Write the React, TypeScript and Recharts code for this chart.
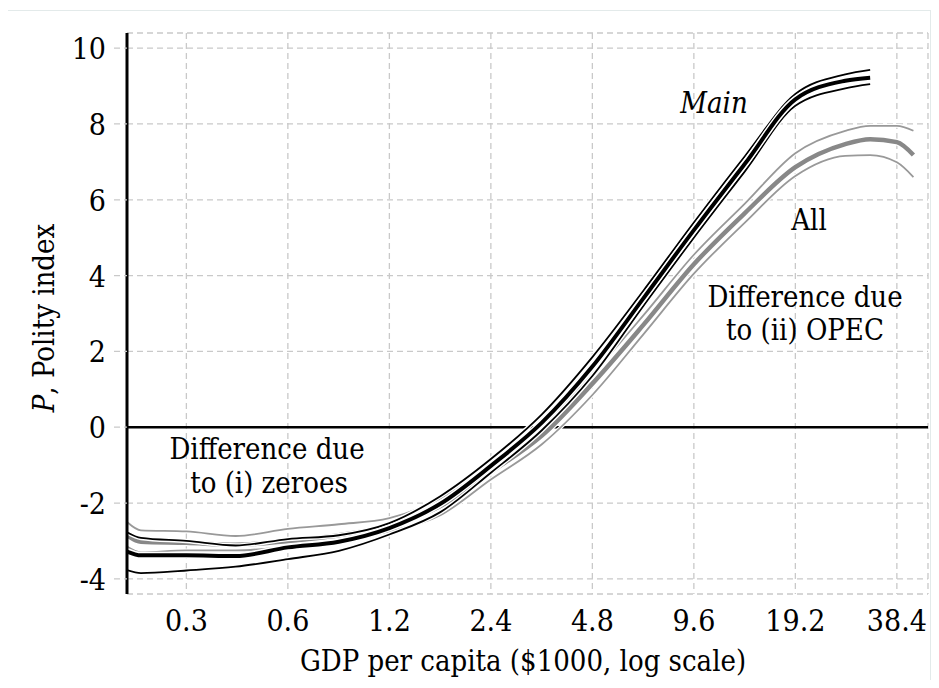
import React from 'react';
import { LineChart, Line, XAxis, YAxis, CartesianGrid, ReferenceLine } from 'recharts';

// GDP per capita ($1000) at which the curves are read
const gdp = [0.2, 0.22, 0.3, 0.42, 0.6, 0.85, 1.2, 1.7, 2.4, 3.4, 4.8, 6.8, 9.6, 13.6, 19.2, 27, 32, 38.4, 43];

// Main sample: estimate and confidence band
const mainMid = [-3.28, -3.38, -3.38, -3.4, -3.17, -3.02, -2.66, -2.02, -1.02, 0.12, 1.6, 3.4, 5.2, 6.95, 8.65, 9.14, 9.22, null, null];
const mainHi = [-2.77, -2.92, -3.0, -3.12, -2.95, -2.85, -2.53, -1.82, -0.84, 0.34, 1.85, 3.6, 5.4, 7.15, 8.79, 9.31, 9.43, null, null];
const mainLo = [-3.77, -3.85, -3.78, -3.68, -3.48, -3.26, -2.83, -2.24, -1.2, -0.08, 1.35, 3.2, 5.0, 6.75, 8.48, 8.94, 9.05, null, null];

// All countries: estimate and confidence band
const allMid = [-2.85, -3.02, -3.05, -3.1, -3.0, -2.85, -2.6, -2.08, -1.18, -0.22, 1.15, 2.7, 4.3, 5.65, 6.86, 7.47, 7.6, 7.52, 7.18];
const allHi = [-2.5, -2.72, -2.75, -2.87, -2.68, -2.56, -2.4, -1.88, -1.0, 0.03, 1.4, 2.95, 4.55, 5.9, 7.23, 7.82, 7.95, 7.95, 7.82];
const allLo = [-3.15, -3.3, -3.25, -3.25, -3.15, -3.0, -2.75, -2.32, -1.38, -0.45, 0.85, 2.45, 4.05, 5.4, 6.63, 7.16, 7.18, 6.99, 6.6];

const xTicks = [0.3, 0.6, 1.2, 2.4, 4.8, 9.6, 19.2, 38.4];
const yTicks = [-4, -2, 0, 2, 4, 6, 8, 10];

const data = gdp.map((g, i) => ({
  gdp: g,
  mainMid: mainMid[i],
  mainHi: mainHi[i],
  mainLo: mainLo[i],
  allMid: allMid[i],
  allHi: allHi[i],
  allLo: allLo[i],
}));

const GRID = '#c9c9c9';
const tickTxt = { fontFamily: 'DejaVu Serif', fontStretch: 'condensed', fontSize: 30 };
const noteTxt = { fontFamily: 'DejaVu Serif', fontStretch: 'condensed', fontSize: 29 };

const XTick = (props: any) => {
  const { x, y, payload } = props;
  return (
    <text x={x} y={y + 35} textAnchor="middle" style={tickTxt} fill="#000">
      {payload.value}
    </text>
  );
};

const YTick = (props: any) => {
  const { x, y, payload } = props;
  return (
    <text x={x - 6} y={y + 11} textAnchor="end" style={tickTxt} fill="#000">
      {payload.value}
    </text>
  );
};

// one curve = white halo underneath, coloured stroke on top
const curve = (key: string, color: string, width: number, halo: number) => [
  <Line key={key + '-halo'} dataKey={key} stroke="#fff" strokeWidth={halo} dot={false}
    type="monotone" isAnimationActive={false} activeDot={false} legendType="none" />,
  <Line key={key} dataKey={key} stroke={color} strokeWidth={width} dot={false}
    type="monotone" isAnimationActive={false} activeDot={false} legendType="none" />,
];

export default function App() {
  return (
    <div style={{ position: 'relative', width: 923, height: 672 }}>
      <div style={{ position: 'absolute', left: -1, top: 2, width: 924, height: 700, border: '1px solid #e3eaea', boxSizing: 'border-box' }} />
      <LineChart width={923} height={672} data={data} margin={{ top: 25, right: 3, left: 59, bottom: 46 }}>
        <CartesianGrid stroke={GRID} strokeDasharray="6 4" strokeWidth={1.3} />
        <XAxis dataKey="gdp" type="number" scale="log" domain={[0.2, 47.5]} ticks={xTicks}
          allowDataOverflow axisLine={false} tickLine={false} tickSize={0} tick={<XTick />} height={40} interval={0} />
        <YAxis type="number" domain={[-4.4, 10.4]} ticks={yTicks} width={60} interval={0}
          axisLine={{ stroke: '#000', strokeWidth: 3 }}
          tickLine={{ stroke: GRID, strokeDasharray: '6 4', strokeWidth: 1.3 }} tickSize={13} tick={<YTick />} />
        <ReferenceLine y={0} stroke="#000" strokeWidth={2.5} />
        {curve('allHi', '#999', 1.8, 4)}
        {curve('allLo', '#999', 1.8, 4)}
        {curve('allMid', '#888', 4.5, 7)}
        {curve('mainHi', '#000', 1.8, 4.5)}
        {curve('mainLo', '#000', 1.8, 4.5)}
        {curve('mainMid', '#000', 4, 7)}
      </LineChart>
      <svg width={923} height={672} style={{ position: 'absolute', left: 0, top: 0, pointerEvents: 'none' }} fill="#000">
        <text x={46} y={310} textAnchor="middle" transform="rotate(-90 46 310)" style={noteTxt}>
          <tspan fontStyle="italic">P</tspan>, Polity index
        </text>
        <text x={515} y={663} textAnchor="middle" style={noteTxt}>GDP per capita ($1000, log scale)</text>
        <text x={706} y={105} textAnchor="middle" style={{ ...noteTxt, fontStyle: 'italic' }}>Main</text>
        <text x={801} y={222} textAnchor="middle" style={noteTxt}>All</text>
        <text x={797} y={299} textAnchor="middle" style={noteTxt}>Difference due</text>
        <text x={797} y={332} textAnchor="middle" style={noteTxt}>to (ii) OPEC</text>
        <text x={259} y={451} textAnchor="middle" style={noteTxt}>Difference due</text>
        <text x={261} y={485} textAnchor="middle" style={noteTxt}>to (i) zeroes</text>
      </svg>
    </div>
  );
}
